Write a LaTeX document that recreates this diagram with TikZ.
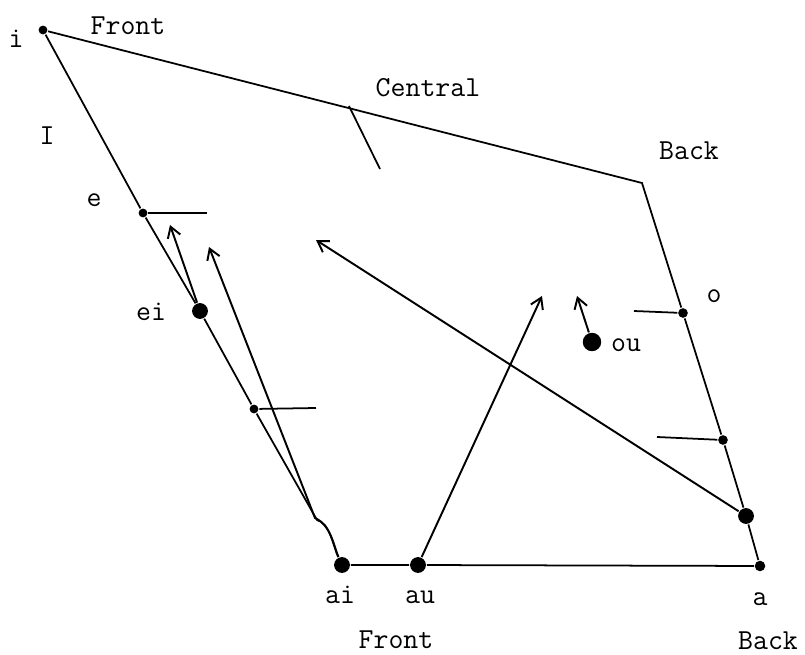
\documentclass[tikz,border=0pt]{standalone}
\usetikzlibrary{arrows.meta}

\tikzset{
  pt/.style={circle,fill,inner sep=0pt,minimum size=6pt},
  bigpt/.style={circle,fill,inner sep=0pt,minimum size=9pt},
  lbl/.style={anchor=base,inner sep=0pt},
  mv/.style={->,line width=1.1pt}
}

\begin{document}
\begin{tikzpicture}[x=0.02cm,y=-0.02cm,line width=1pt,>={Straight Barb[length=6pt,width=7.5pt]},
  font=\ttfamily\fontsize{16.5}{19}\selectfont]
\useasboundingbox (0,0) rectangle (805,655);

\node[pt,minimum size=5pt] (i) at (43,30) {};
\coordinate (bk) at (642,183);
\node[pt,minimum size=5pt] (e) at (143,213) {};
\node[bigpt] (ei) at (200,311) {};
\node[pt,minimum size=5pt] (m) at (254,409) {};
\coordinate (bend) at (317,520);
\node[bigpt] (ai) at (342,565) {};
\node[bigpt] (au) at (418,565) {};
\node[pt] (a) at (760,566) {};
\node[pt,minimum size=5.5pt] (o) at (683,313) {};
\node[pt,minimum size=5.5pt] (ob) at (723,440) {};
\node[bigpt] (ab) at (746,516) {};
\node[bigpt,minimum size=10.5pt] (ou) at (592,342) {};

\node[lbl] (il) at (16,48) {i};
\node[lbl] (fronttop) at (128,35) {Front};
\node[lbl] (Il) at (47,145) {I};
\node[lbl] (central) at (428,97) {Central};
\node[lbl] (backtop) at (689,160) {Back};
\node[lbl] (el) at (94,207) {e};
\node[lbl] (eil) at (151,320) {ei};
\node[lbl] (ol) at (714,303) {o};
\node[lbl] (oul) at (626,352) {ou};
\node[lbl] (ail) at (340,603) {ai};
\node[lbl] (aul) at (420,603) {au};
\node[lbl] (al) at (760,605) {a};
\node[lbl] (frontbot) at (396,648) {Front};
\node[lbl] (backbot) at (768,649) {Back};

\coordinate (ct) at (349,106);
\coordinate (cte) at (380,169);
\coordinate (et) at (207,213);
\coordinate (mt) at (316,408);
\coordinate (ot) at (634,311);
\coordinate (obt) at (657,437);

\draw (i) -- (bk) -- (o) -- (ob) -- (ab) -- (a) -- (au) -- (ai);
\draw (i) -- (e) -- (ei) -- (m) -- (bend) .. controls (330,523) and (333,546) .. (ai);
\draw (ct) -- (cte);
\draw (e) -- (et);
\draw (m) -- (mt);
\draw (ot) -- (o);
\draw (obt) -- (ob);

\draw[mv] (ei) -- (170,225);
\draw[mv] (ai) .. controls (334,547) and (331,525) .. (315,518) -- (209,247);
\draw[mv] (au) -- (542,296);
\draw[mv] (ab) -- (316,240);
\draw[mv] (ou) -- (577,296);
\end{tikzpicture}
\end{document}
